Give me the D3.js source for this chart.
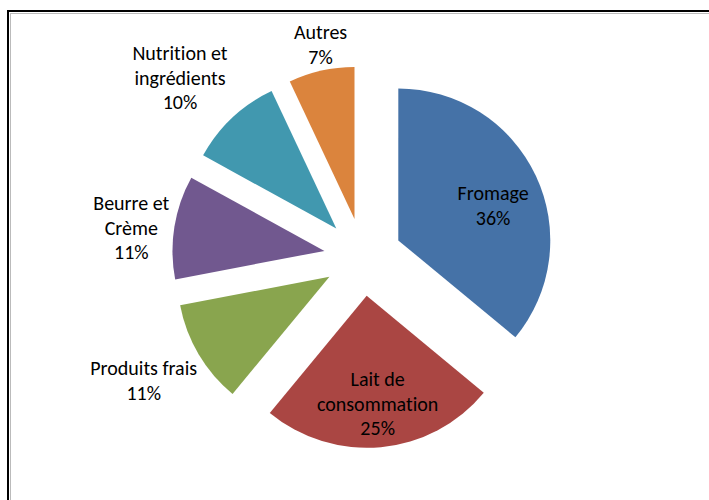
<!DOCTYPE html>
<html>
<head>
<meta charset="utf-8">
<script src="https://cdn.jsdelivr.net/npm/d3@7"></script>
<style>
  html, body { margin: 0; padding: 0; background: #fff; }
  svg { display: block; }
  .lbl { font-family: Calibri, Carlito, Lato, "Open Sans", sans-serif; font-size: 20px; fill: #000; font-variant-ligatures: none; }
</style>
</head>
<body>
<svg id="chart" width="709" height="500"></svg>
<script>
// données
var categories = ["Fromage", "Lait de consommation", "Produits frais", "Beurre et Crème", "Nutrition et ingrédients", "Autres"];
var labelLines = [["Fromage"], ["Lait de", "consommation"], ["Produits frais"], ["Beurre et", "Crème"], ["Nutrition et", "ingrédients"], ["Autres"]];
var values = [36, 25, 11, 11, 10, 7];
var colors = ["#4572A7", "#AA4643", "#89A54E", "#71588F", "#4198AF", "#DB843D"];

// placement des étiquettes (en rayons) et petite rotation (degrés)
var labelDist = [0.665, 0.715, 1.40, 1.28, 1.43, 1.17];
var labelTurn = [5, -0.4, 1.4, -2.2, -2.8, 1.6];

var W = 709, H = 500;
var cx = 363, cy = 257;
var radius = 152;
var explode = 39;
var lineH = 24.5;

var svg = d3.select("#chart");

// cadre
svg.append("rect")
    .attr("x", 8).attr("y", 11)
    .attr("width", W).attr("height", H)
    .attr("fill", "none").attr("stroke", "#000").attr("stroke-width", 2);
svg.append("rect")
    .attr("x", 10.5).attr("y", 13.5)
    .attr("width", W).attr("height", H)
    .attr("fill", "none").attr("stroke", "#bbb").attr("stroke-width", 1);

var pie = d3.pie().sort(null).value(function (d) { return d; });
var arcs = pie(values);
var arc = d3.arc().innerRadius(0).outerRadius(radius);

var total = d3.sum(values);

var slices = svg.append("g")
    .attr("transform", "translate(" + cx + "," + cy + ")")
    .selectAll("g")
    .data(arcs)
    .enter()
    .append("g")
    .attr("transform", function (d) {
        var a = (d.startAngle + d.endAngle) / 2;
        return "translate(" + (explode * Math.sin(a)) + "," + (-explode * Math.cos(a)) + ")";
    });

slices.append("path")
    .attr("d", arc)
    .attr("fill", function (d, i) { return colors[i]; });

// étiquettes
slices.each(function (d, i) {
    var a = (d.startAngle + d.endAngle) / 2 + labelTurn[i] * Math.PI / 180;
    var r = labelDist[i] * radius;
    var lx = r * Math.sin(a), ly = -r * Math.cos(a);
    var lines = labelLines[i].concat([Math.round(values[i] / total * 100) + "%"]);
    var t = d3.select(this).append("text")
        .attr("class", "lbl")
        .attr("text-anchor", "middle");
    lines.forEach(function (s, k) {
        t.append("tspan")
            .attr("x", lx)
            .attr("y", ly + (k - (lines.length - 1) / 2) * lineH)
            .attr("dominant-baseline", "central")
            .text(s);
    });
});
</script>
</body>
</html>
